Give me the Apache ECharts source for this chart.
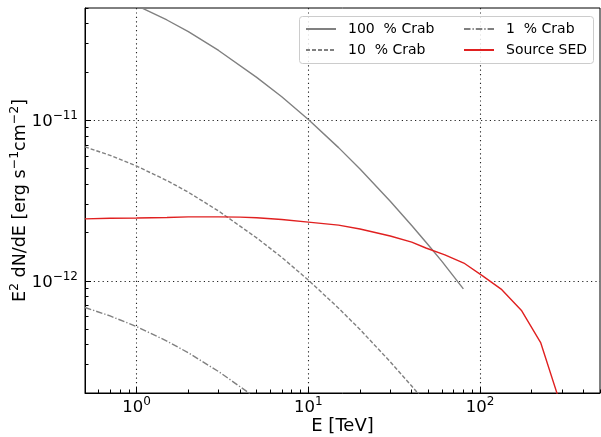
<!DOCTYPE html>
<html>
<head>
<meta charset="utf-8">
<script src="https://cdn.jsdelivr.net/npm/echarts@6/dist/echarts.min.js"></script>
<style>
  html, body { margin: 0; padding: 0; background: #fff; }
  #chart { width: 601px; height: 437px; }
</style>
</head>
<body>
<div id="chart"></div>
<script>
// Energies (TeV) for the Crab reference spectra
const crabEnergy = [0.5, 0.7, 1, 1.5, 2, 3, 5, 7, 10, 15, 20, 30, 40, 50, 60, 80];
// E^2 dN/dE (erg s^-1 cm^-2) at 100 %, 10 % and 1 % of the Crab flux
const crab100 = [6.82e-11, 6.04e-11, 5.18e-11, 4.21e-11, 3.56e-11, 2.72e-11, 1.85e-11, 1.40e-11, 1.01e-11, 6.75e-12, 4.97e-12, 3.13e-12, 2.21e-12, 1.67e-12, 1.32e-12, 8.91e-13];
const crab10  = [6.82e-12, 6.04e-12, 5.18e-12, 4.21e-12, 3.56e-12, 2.72e-12, 1.85e-12, 1.40e-12, 1.01e-12, 6.75e-13, 4.97e-13, 3.13e-13, 2.21e-13, 1.67e-13, 1.32e-13, 8.91e-14];
const crab1   = [6.82e-13, 6.04e-13, 5.18e-13, 4.21e-13, 3.56e-13, 2.72e-13, 1.85e-13, 1.40e-13, 1.01e-13, 6.75e-14, 4.97e-14, 3.13e-14, 2.21e-14, 1.67e-14, 1.32e-14, 8.91e-15];

// Source spectral energy distribution
const sedEnergy = [0.5, 0.7, 1, 1.5, 2, 3, 4, 5, 7, 10, 15, 20, 30, 40, 48.4, 62.4, 80.5, 104, 134, 175, 226, 292];
const sedFlux   = [2.43e-12, 2.45e-12, 2.46e-12, 2.48e-12, 2.50e-12, 2.50e-12, 2.49e-12, 2.47e-12, 2.41e-12, 2.32e-12, 2.22e-12, 2.10e-12, 1.90e-12, 1.74e-12, 1.60e-12, 1.45e-12, 1.29e-12, 1.07e-12, 8.8e-13, 6.5e-13, 4.1e-13, 1.75e-13];

const seriesNames = ['100  % Crab', '10  % Crab', '1  % Crab', 'Source SED'];

// Axis ranges and labelled decades
const xRange = [0.5, 500];
const yRange = [2e-13, 5e-11];
const xMajorTicks = [1, 10, 100];
const yMajorTicks = [1e-12, 1e-11];

// "10^n" with the exponent as a raised, smaller rich-text run
function powLabel(v) {
  const e = Math.round(Math.log10(v));
  return '{b|10}{s|' + String(e).replace('-', '\u2212') + '}';
}

// Minor ticks at 2..9 of each decade inside a range
function minorTicks(lo, hi) {
  const out = [];
  for (let d = Math.floor(Math.log10(lo)); d <= Math.ceil(Math.log10(hi)); d++) {
    for (let k = 2; k <= 9; k++) {
      const v = k * Math.pow(10, d);
      if (v >= lo * 0.999 && v <= hi * 1.001) out.push(v);
    }
  }
  return out;
}

function pairs(xs, ys) { return xs.map((x, i) => [x, ys[i]]); }

const FONT = 'DejaVu Sans';
const gray = '#808080';
const red = '#e02020';

const tickRich = {
  b: { fontFamily: FONT, fontSize: 16.5, lineHeight: 20, verticalAlign: 'bottom', color: '#000' },
  s: { fontFamily: FONT, fontSize: 12, lineHeight: 20, verticalAlign: 'top', color: '#000' }
};
const nameRich = {
  b: { fontFamily: FONT, fontSize: 17.5, lineHeight: 21, verticalAlign: 'bottom', color: '#000' },
  s: { fontFamily: FONT, fontSize: 12.5, lineHeight: 21, verticalAlign: 'top', color: '#000' }
};

const chart = echarts.init(document.getElementById('chart'), null, { renderer: 'canvas' });

const gridLine = { show: true, lineStyle: { color: '#222', width: 1.1, type: [1.2, 3.2] } };

chart.setOption({
  backgroundColor: '#fff',
  animation: false,
  grid: { left: 85, right: 1, top: 8, bottom: 44, outerBoundsMode: 'none', containLabel: false,
          show: true, borderColor: '#000', borderWidth: 1, backgroundColor: 'transparent' },
  xAxis: [
    {
      type: 'log', logBase: 10, min: xRange[0], max: xRange[1],
      name: 'E [TeV]', nameLocation: 'middle', nameGap: 24, nameMoveOverlap: false,
      nameTextStyle: { fontFamily: FONT, fontSize: 18, color: '#000' },
      axisLine: { show: true, onZero: false, lineStyle: { color: '#000', width: 1 } },
      axisTick: { show: true, inside: true, length: 6, customValues: xMajorTicks, lineStyle: { color: '#000', width: 1 } },
      axisLabel: { show: true, customValues: xMajorTicks, margin: 3, formatter: v => powLabel(v), rich: tickRich },
      splitLine: gridLine,
      minorTick: { show: false }
    },
    {
      type: 'log', logBase: 10, min: xRange[0], max: xRange[1], position: 'bottom',
      axisLine: { show: false },
      axisTick: { show: true, inside: true, length: 3.5, customValues: minorTicks(xRange[0], xRange[1]), lineStyle: { color: '#000', width: 1 } },
      axisLabel: { show: false },
      splitLine: { show: false }
    }
  ],
  yAxis: [
    {
      type: 'log', logBase: 10, min: yRange[0], max: yRange[1],
      name: '{b|E}{s|2}{b| dN/dE [erg s}{s|\u22121}{b|cm}{s|\u22122}{b|]}', nameLocation: 'middle', nameGap: 56, nameMoveOverlap: false,
      nameTextStyle: { rich: nameRich },
      axisLine: { show: true, onZero: false, lineStyle: { color: '#000', width: 1 } },
      axisTick: { show: true, inside: true, length: 6, customValues: yMajorTicks, lineStyle: { color: '#000', width: 1 } },
      axisLabel: { show: true, customValues: yMajorTicks, margin: 7, formatter: v => powLabel(v), rich: tickRich },
      splitLine: gridLine
    },
    {
      type: 'log', logBase: 10, min: yRange[0], max: yRange[1], position: 'left',
      axisLine: { show: false },
      axisTick: { show: true, inside: true, length: 3.5, customValues: minorTicks(yRange[0], yRange[1]), lineStyle: { color: '#000', width: 1 } },
      axisLabel: { show: false },
      splitLine: { show: false }
    }
  ],
  graphic: [{
    type: 'rect', z: 50, left: 299, top: 16,
    shape: { width: 294, height: 47, r: 3 },
    style: { fill: 'rgba(255,255,255,0.85)', stroke: '#cccccc', lineWidth: 1 }
  }],
  legend: [
    {
      z: 60, orient: 'vertical', left: 305, top: 22, padding: 0, itemGap: 7, itemWidth: 30, itemHeight: 14,
      itemStyle: { opacity: 0 },
      data: [seriesNames[0], seriesNames[1]],
      textStyle: { fontFamily: FONT, fontSize: 14, color: '#000', padding: [0, 0, 0, 7] }
    },
    {
      z: 60, orient: 'vertical', left: 463, top: 22, padding: 0, itemGap: 7, itemWidth: 30, itemHeight: 14,
      itemStyle: { opacity: 0 },
      data: [seriesNames[2], seriesNames[3]],
      textStyle: { fontFamily: FONT, fontSize: 14, color: '#000', padding: [0, 0, 0, 7] }
    }
  ],
  series: [
    { name: seriesNames[0], type: 'line', xAxisIndex: 0, yAxisIndex: 0, data: pairs(crabEnergy, crab100),
      symbol: 'none', smooth: false, clip: true, lineStyle: { color: gray, width: 1.4, type: 'solid' }, itemStyle: { color: gray } },
    { name: seriesNames[1], type: 'line', xAxisIndex: 0, yAxisIndex: 0, data: pairs(crabEnergy, crab10),
      symbol: 'none', smooth: false, clip: true, lineStyle: { color: gray, width: 1.4, type: [4, 2] }, itemStyle: { color: gray } },
    { name: seriesNames[2], type: 'line', xAxisIndex: 0, yAxisIndex: 0, data: pairs(crabEnergy, crab1),
      symbol: 'none', smooth: false, clip: true, lineStyle: { color: gray, width: 1.4, type: [6.5, 2, 1.3, 2] }, itemStyle: { color: gray } },
    { name: seriesNames[3], type: 'line', xAxisIndex: 0, yAxisIndex: 0, data: pairs(sedEnergy, sedFlux),
      symbol: 'none', smooth: false, clip: true, lineStyle: { color: red, width: 1.4, type: 'solid' }, itemStyle: { color: red } }
  ]
});
</script>
</body>
</html>
